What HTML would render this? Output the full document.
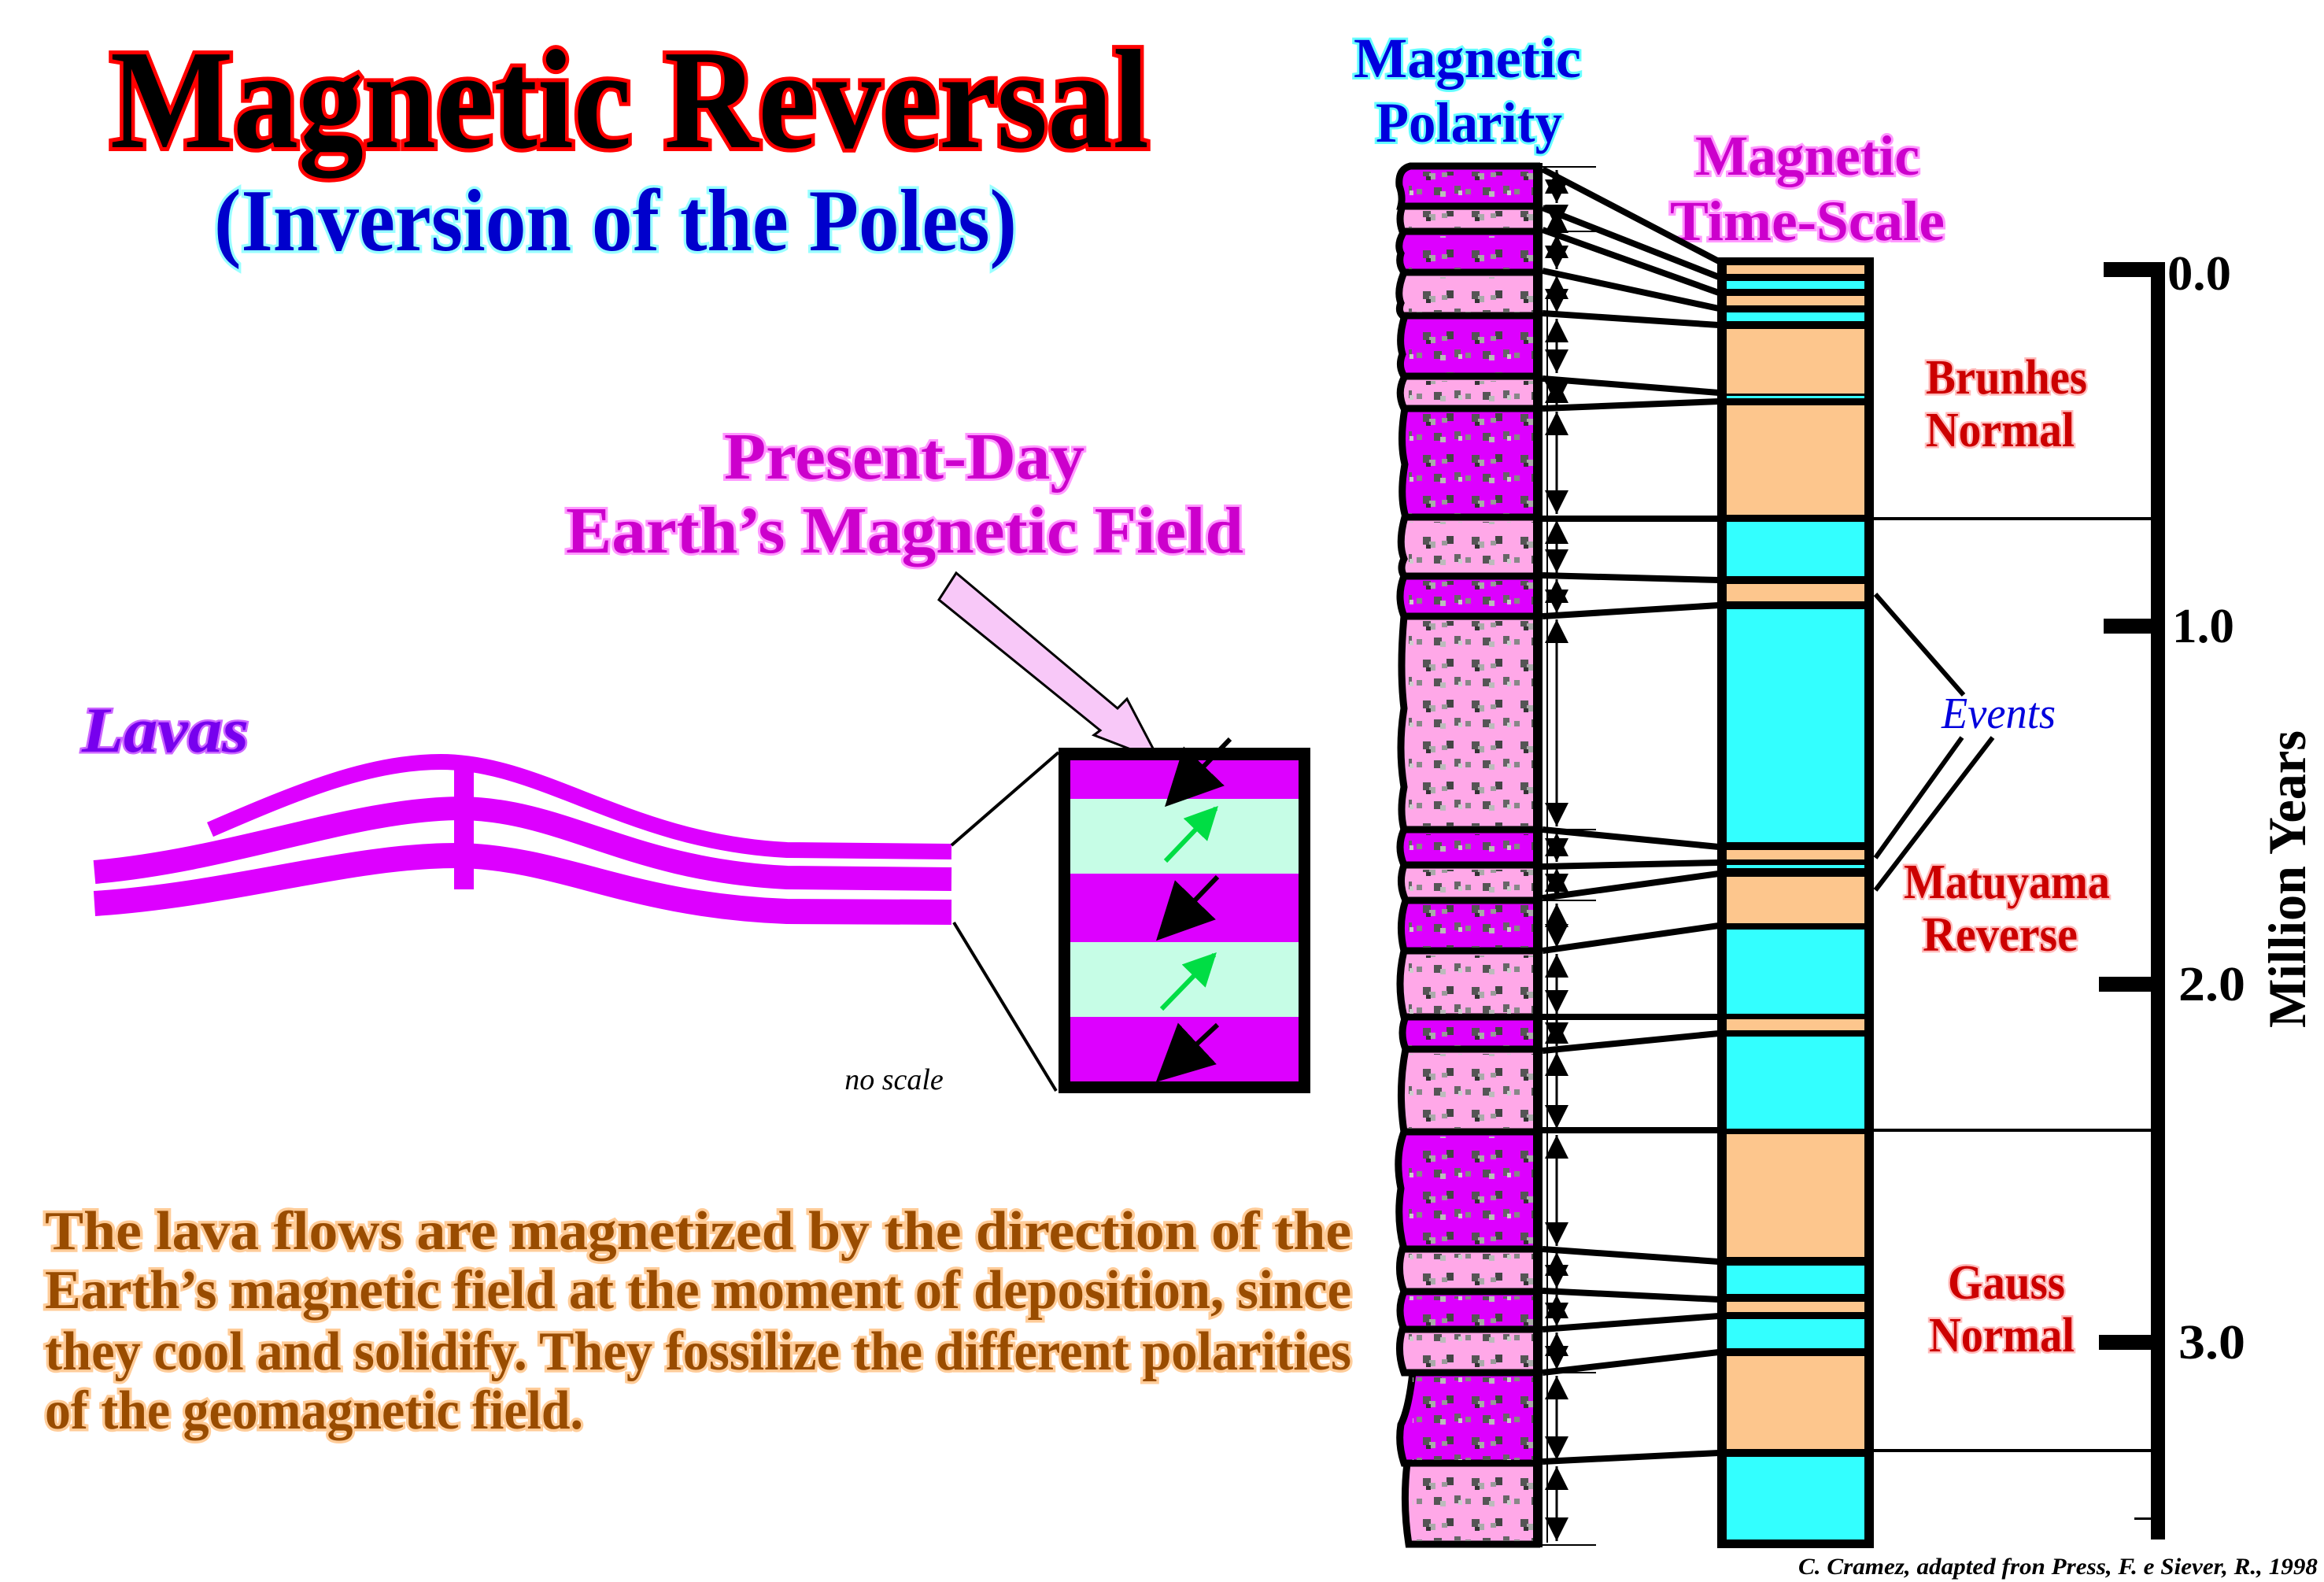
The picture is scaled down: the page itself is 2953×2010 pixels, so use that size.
<!DOCTYPE html>
<html><head><meta charset="utf-8"><style>
html,body{margin:0;padding:0;background:#fff;}
svg{display:block;}
text{font-family:"Liberation Serif",serif;font-weight:bold;}
</style></head><body>
<svg width="2953" height="2010" viewBox="0 0 2953 2010" xmlns="http://www.w3.org/2000/svg">
<defs>
<pattern id="tx" width="62" height="52" patternUnits="userSpaceOnUse">
<rect x="10" y="6" width="10" height="10" fill="#555"/><rect x="18" y="12" width="8" height="8" fill="#aaa"/><rect x="14" y="16" width="6" height="5" fill="#333"/>
<rect x="40" y="5" width="9" height="10" fill="#444"/><rect x="34" y="11" width="7" height="6" fill="#999"/>
<rect x="24" y="30" width="10" height="10" fill="#555"/><rect x="32" y="35" width="7" height="7" fill="#bbb"/>
<rect x="50" y="28" width="8" height="10" fill="#666"/><rect x="55" y="34" width="5" height="6" fill="#ccc"/>
<rect x="2" y="32" width="7" height="7" fill="#888"/>
</pattern>
<marker id="ah" viewBox="0 0 10 10" refX="10" refY="5" markerWidth="30" markerHeight="30" markerUnits="userSpaceOnUse" orient="auto-start-reverse"><path d="M0,0 L10,5 L0,10z" fill="#000"/></marker>
<marker id="bk" viewBox="0 0 10 10" refX="9" refY="5" markerWidth="12" markerHeight="12" orient="auto"><path d="M0,0 L10,5 L0,10z" fill="#000"/></marker>
<marker id="gr" viewBox="0 0 10 10" refX="9" refY="5" markerWidth="7" markerHeight="7" orient="auto"><path d="M0,0 L10,5 L0,10z" fill="#00dd44"/></marker>
</defs>

<text x="140" y="187" font-size="180" textLength="1320" lengthAdjust="spacingAndGlyphs" fill="#000" stroke="#ff0000" stroke-width="10" paint-order="stroke">Magnetic Reversal</text>
<text x="272" y="318" font-size="112" textLength="1020" lengthAdjust="spacingAndGlyphs" fill="#0000cc" stroke="#99ffff" stroke-width="7" paint-order="stroke">(Inversion of the Poles)</text>

<text x="920" y="608" font-size="84" textLength="458" lengthAdjust="spacingAndGlyphs" fill="#cc00cc" stroke="#ff99ff" stroke-width="6" paint-order="stroke">Present-Day</text>
<text x="719" y="702" font-size="84" textLength="861" lengthAdjust="spacingAndGlyphs" fill="#cc00cc" stroke="#ff99ff" stroke-width="6" paint-order="stroke">Earth’s Magnetic Field</text>

<text x="104" y="955" font-size="82" font-style="italic" textLength="212" lengthAdjust="spacingAndGlyphs" fill="#7700ee" stroke="#cc66ff" stroke-width="5" paint-order="stroke">Lavas</text>

<polygon points="1215,728 1193,762 1398,928 1390,934 1473,966 1432,888 1420,900" fill="#f8c8f8" stroke="#000" stroke-width="3"/>

<g fill="none" stroke="#dd00ff" stroke-linecap="butt">
<path d="M267,1054 C380,1005 470,968 560,968 C690,968 800,1070 1000,1080 L1209,1082" stroke-width="20"/>
<path d="M120,1108 C300,1092 450,1027 588,1027 C720,1030 800,1105 1000,1115 L1209,1117" stroke-width="30"/>
<path d="M120,1148 C300,1136 450,1085 588,1087 C720,1092 800,1150 1000,1158 L1209,1159" stroke-width="32"/>
</g>
<rect x="577" y="962" width="25" height="168" fill="#dd00ff"/>
<text x="1136" y="1384" font-size="38" font-style="italic" text-anchor="middle" fill="#000" style="font-weight:normal">no scale</text>

<line x1="1209" y1="1074" x2="1345" y2="956" stroke="#000" stroke-width="4"/>
<line x1="1212" y1="1172" x2="1342" y2="1386" stroke="#000" stroke-width="4"/>
<rect x="1345" y="950" width="320" height="439" fill="#000"/>
<rect x="1360" y="966" width="290" height="49" fill="#dd00ff"/>
<rect x="1360" y="1015" width="290" height="95" fill="#c6fde6"/>
<rect x="1360" y="1110" width="290" height="87" fill="#dd00ff"/>
<rect x="1360" y="1197" width="290" height="95" fill="#c6fde6"/>
<rect x="1360" y="1292" width="290" height="82" fill="#dd00ff"/>
<g stroke="#000" stroke-width="6">
<line x1="1563" y1="939" x2="1485" y2="1020" marker-end="url(#bk)"/>
<line x1="1547" y1="1114" x2="1474" y2="1190" marker-end="url(#bk)"/>
<line x1="1547" y1="1302" x2="1474" y2="1370" marker-end="url(#bk)"/>
</g>
<g stroke="#00dd44" stroke-width="6">
<line x1="1481" y1="1094" x2="1545" y2="1027" marker-end="url(#gr)"/>
<line x1="1476" y1="1282" x2="1543" y2="1213" marker-end="url(#gr)"/>
</g>

<g font-size="70" fill="#994c00" stroke="#ffcc99" stroke-width="7" paint-order="stroke">
<text x="57" y="1587" textLength="1660" lengthAdjust="spacingAndGlyphs">The lava flows are magnetized by the direction of the</text>
<text x="57" y="1662" textLength="1660" lengthAdjust="spacingAndGlyphs">Earth’s magnetic field at the moment of deposition, since</text>
<text x="57" y="1740" textLength="1660" lengthAdjust="spacingAndGlyphs">they cool and solidify. They fossilize the different polarities</text>
<text x="57" y="1815" textLength="684" lengthAdjust="spacingAndGlyphs">of the geomagnetic field.</text>
</g>

<g fill="#0000dd" stroke="#66ffff" stroke-width="6" paint-order="stroke" font-size="72">
<text x="1720" y="98" textLength="289" lengthAdjust="spacingAndGlyphs">Magnetic</text>
<text x="1748" y="180" textLength="237" lengthAdjust="spacingAndGlyphs">Polarity</text>
</g>
<g fill="#cc00cc" stroke="#ff99ff" stroke-width="6" paint-order="stroke" font-size="72">
<text x="2154" y="222" textLength="285" lengthAdjust="spacingAndGlyphs">Magnetic</text>
<text x="2122" y="305" textLength="349" lengthAdjust="spacingAndGlyphs">Time-Scale</text>
</g>

<g stroke="#000" stroke-width="9">
<path d="M1957,211 L1792,211 Q1776,215 1778,236 Q1783,250 1780,262 L1957,262" fill="#dd00ff"/>
<path d="M1957,262 L1782,262 Q1776,278 1782,294 L1957,294" fill="#ffa8e8"/>
<path d="M1957,294 L1784,294 Q1774,310 1780,322 Q1776,335 1784,346 L1957,346" fill="#dd00ff"/>
<path d="M1957,346 L1784,346 Q1774,370 1780,385 Q1776,395 1782,401 L1957,401" fill="#ffa8e8"/>
<path d="M1957,401 L1785,401 Q1776,430 1782,450 Q1776,465 1784,478 L1957,478" fill="#dd00ff"/>
<path d="M1957,478 L1785,478 Q1774,498 1784,519 L1957,519" fill="#ffa8e8"/>
<path d="M1957,519 L1785,519 Q1778,560 1785,590 Q1778,630 1786,657 L1957,657" fill="#dd00ff"/>
<path d="M1957,657 L1785,657 Q1776,690 1784,710 Q1778,722 1784,732 L1957,732" fill="#ffa8e8"/>
<path d="M1957,732 L1784,732 Q1774,758 1784,783 L1957,783" fill="#dd00ff"/>
<path d="M1957,783 L1784,783 Q1778,850 1784,900 Q1776,950 1784,1000 Q1778,1030 1784,1054 L1957,1054" fill="#ffa8e8"/>
<path d="M1957,1054 L1784,1054 Q1774,1076 1784,1099 L1957,1099" fill="#dd00ff"/>
<path d="M1957,1099 L1784,1099 Q1776,1122 1786,1144 L1957,1144" fill="#ffa8e8"/>
<path d="M1957,1144 L1786,1144 Q1776,1175 1784,1208 L1957,1208" fill="#dd00ff"/>
<path d="M1957,1208 L1784,1208 Q1774,1250 1784,1292 L1957,1292" fill="#ffa8e8"/>
<path d="M1957,1292 L1786,1292 Q1778,1312 1786,1333 L1957,1333" fill="#dd00ff"/>
<path d="M1957,1333 L1786,1333 Q1776,1385 1784,1438 L1957,1438" fill="#ffa8e8"/>
<path d="M1957,1438 L1784,1438 Q1772,1470 1780,1510 Q1774,1550 1784,1587 L1957,1587" fill="#dd00ff"/>
<path d="M1957,1587 L1782,1587 Q1774,1614 1784,1641 L1957,1641" fill="#ffa8e8"/>
<path d="M1957,1641 L1784,1641 Q1774,1665 1784,1689 L1957,1689" fill="#dd00ff"/>
<path d="M1957,1689 L1782,1689 Q1774,1716 1784,1744 L1957,1744" fill="#ffa8e8"/>
<path d="M1957,1744 L1795,1744 Q1790,1790 1780,1810 Q1776,1835 1784,1859 L1957,1859" fill="#dd00ff"/>
<path d="M1957,1859 L1788,1859 Q1782,1910 1790,1962 L1957,1962" fill="#ffa8e8"/>
</g>
<g fill="url(#tx)">
<rect x="1790" y="218" width="162" height="40"/><rect x="1790" y="268" width="162" height="22"/>
<rect x="1790" y="300" width="162" height="42"/><rect x="1790" y="352" width="162" height="45"/>
<rect x="1790" y="407" width="162" height="67"/><rect x="1790" y="484" width="162" height="31"/>
<rect x="1790" y="525" width="162" height="128"/><rect x="1790" y="663" width="162" height="65"/>
<rect x="1790" y="738" width="162" height="41"/><rect x="1790" y="789" width="162" height="261"/>
<rect x="1790" y="1060" width="162" height="35"/><rect x="1790" y="1105" width="162" height="35"/>
<rect x="1790" y="1150" width="162" height="54"/><rect x="1790" y="1214" width="162" height="74"/>
<rect x="1790" y="1298" width="162" height="31"/><rect x="1790" y="1339" width="162" height="95"/>
<rect x="1790" y="1444" width="162" height="139"/><rect x="1790" y="1593" width="162" height="44"/>
<rect x="1790" y="1647" width="162" height="38"/><rect x="1790" y="1695" width="162" height="45"/>
<rect x="1795" y="1750" width="157" height="105"/><rect x="1795" y="1865" width="157" height="93"/>
</g>
<line x1="1954" y1="207" x2="1954" y2="1966" stroke="#000" stroke-width="12"/>

<g stroke="#000" stroke-width="2">
<line x1="1960" y1="212" x2="2028" y2="212"/><line x1="1960" y1="294" x2="2028" y2="294"/>
<line x1="1960" y1="1054" x2="2028" y2="1054"/><line x1="1960" y1="1144" x2="2028" y2="1144"/>
<line x1="1960" y1="1744" x2="2028" y2="1744"/><line x1="1960" y1="1963" x2="2028" y2="1963"/>
<line x1="1966" y1="380" x2="1966" y2="1960"/>
</g>
<g stroke="#000" stroke-width="3">
<line x1="1978" y1="216" x2="1978" y2="258" marker-start="url(#ah)" marker-end="url(#ah)"/>
<line x1="1978" y1="266" x2="1978" y2="290" marker-start="url(#ah)" marker-end="url(#ah)"/>
<line x1="1978" y1="298" x2="1978" y2="342" marker-start="url(#ah)" marker-end="url(#ah)"/>
<line x1="1978" y1="350" x2="1978" y2="397" marker-start="url(#ah)" marker-end="url(#ah)"/>
<line x1="1978" y1="405" x2="1978" y2="474" marker-start="url(#ah)" marker-end="url(#ah)"/>
<line x1="1978" y1="482" x2="1978" y2="515" marker-start="url(#ah)" marker-end="url(#ah)"/>
<line x1="1978" y1="523" x2="1978" y2="653" marker-start="url(#ah)" marker-end="url(#ah)"/>
<line x1="1978" y1="661" x2="1978" y2="728" marker-start="url(#ah)" marker-end="url(#ah)"/>
<line x1="1978" y1="736" x2="1978" y2="779" marker-start="url(#ah)" marker-end="url(#ah)"/>
<line x1="1978" y1="787" x2="1978" y2="1050" marker-start="url(#ah)" marker-end="url(#ah)"/>
<line x1="1978" y1="1058" x2="1978" y2="1095" marker-start="url(#ah)" marker-end="url(#ah)"/>
<line x1="1978" y1="1103" x2="1978" y2="1140" marker-start="url(#ah)" marker-end="url(#ah)"/>
<line x1="1978" y1="1148" x2="1978" y2="1204" marker-start="url(#ah)" marker-end="url(#ah)"/>
<line x1="1978" y1="1212" x2="1978" y2="1288" marker-start="url(#ah)" marker-end="url(#ah)"/>
<line x1="1978" y1="1296" x2="1978" y2="1329" marker-start="url(#ah)" marker-end="url(#ah)"/>
<line x1="1978" y1="1337" x2="1978" y2="1434" marker-start="url(#ah)" marker-end="url(#ah)"/>
<line x1="1978" y1="1442" x2="1978" y2="1583" marker-start="url(#ah)" marker-end="url(#ah)"/>
<line x1="1978" y1="1591" x2="1978" y2="1637" marker-start="url(#ah)" marker-end="url(#ah)"/>
<line x1="1978" y1="1645" x2="1978" y2="1685" marker-start="url(#ah)" marker-end="url(#ah)"/>
<line x1="1978" y1="1693" x2="1978" y2="1740" marker-start="url(#ah)" marker-end="url(#ah)"/>
<line x1="1978" y1="1748" x2="1978" y2="1855" marker-start="url(#ah)" marker-end="url(#ah)"/>
<line x1="1978" y1="1863" x2="1978" y2="1958" marker-start="url(#ah)" marker-end="url(#ah)"/>
</g>

<rect x="2182" y="327" width="199" height="1640" fill="#000"/>
<g>
<rect x="2194" y="337" width="175" height="11" fill="#fdc68d"/>
<rect x="2194" y="357" width="175" height="10" fill="#33ffff"/>
<rect x="2194" y="376" width="175" height="12" fill="#fdc68d"/>
<rect x="2194" y="397" width="175" height="11" fill="#33ffff"/>
<rect x="2194" y="418" width="175" height="82" fill="#fdc68d"/>
<rect x="2194" y="503" width="175" height="3" fill="#33ffff"/>
<rect x="2194" y="515" width="175" height="139" fill="#fdc68d"/>
<rect x="2194" y="663" width="175" height="69" fill="#33ffff"/>
<rect x="2194" y="742" width="175" height="22" fill="#fdc68d"/>
<rect x="2194" y="774" width="175" height="296" fill="#33ffff"/>
<rect x="2194" y="1080" width="175" height="12" fill="#fdc68d"/>
<rect x="2194" y="1099" width="175" height="4" fill="#33ffff"/>
<rect x="2194" y="1114" width="175" height="59" fill="#fdc68d"/>
<rect x="2194" y="1181" width="175" height="107" fill="#33ffff"/>
<rect x="2194" y="1295" width="175" height="14" fill="#fdc68d"/>
<rect x="2194" y="1317" width="175" height="117" fill="#33ffff"/>
<rect x="2194" y="1441" width="175" height="156" fill="#fdc68d"/>
<rect x="2194" y="1608" width="175" height="36" fill="#33ffff"/>
<rect x="2194" y="1654" width="175" height="13" fill="#fdc68d"/>
<rect x="2194" y="1676" width="175" height="37" fill="#33ffff"/>
<rect x="2194" y="1723" width="175" height="118" fill="#fdc68d"/>
<rect x="2194" y="1851" width="175" height="105" fill="#33ffff"/>
</g>

<g stroke="#000" stroke-width="8">
<line x1="1960" y1="215" x2="2184" y2="332"/>
<line x1="1960" y1="264" x2="2184" y2="352"/>
<line x1="1960" y1="292" x2="2184" y2="372"/>
<line x1="1960" y1="344" x2="2184" y2="392"/>
<line x1="1960" y1="398" x2="2184" y2="413"/>
<line x1="1960" y1="481" x2="2184" y2="499"/>
<line x1="1960" y1="519" x2="2184" y2="510"/>
<line x1="1960" y1="731" x2="2184" y2="737"/>
<line x1="1960" y1="783" x2="2184" y2="769"/>
<line x1="1960" y1="1054" x2="2184" y2="1076"/>
<line x1="1960" y1="1101" x2="2184" y2="1096"/>
<line x1="1960" y1="1141" x2="2184" y2="1110"/>
<line x1="1960" y1="1208" x2="2184" y2="1176"/>
<line x1="1960" y1="1292" x2="2184" y2="1292"/>
<line x1="1960" y1="1335" x2="2184" y2="1313"/>
<line x1="1960" y1="1587" x2="2184" y2="1603"/>
<line x1="1960" y1="1640" x2="2184" y2="1651"/>
<line x1="1960" y1="1689" x2="2184" y2="1672"/>
<line x1="1960" y1="1744" x2="2184" y2="1718"/>
<line x1="1960" y1="1857" x2="2184" y2="1846"/>
<line x1="1960" y1="659" x2="2184" y2="659"/>
<line x1="1960" y1="1436" x2="2184" y2="1436"/>
</g>
<g stroke="#000" stroke-width="4">
<line x1="2381" y1="659" x2="2740" y2="659"/>
<line x1="2381" y1="1436" x2="2740" y2="1436"/>
<line x1="2381" y1="1843" x2="2740" y2="1843"/>
<line x1="2383" y1="755" x2="2495" y2="883" stroke-width="6"/>
<line x1="2493" y1="937" x2="2383" y2="1090" stroke-width="6"/>
<line x1="2532" y1="937" x2="2383" y2="1131" stroke-width="6"/>
</g>

<rect x="2733" y="333" width="18" height="1623" fill="#000"/>
<rect x="2673" y="333" width="62" height="19" fill="#000"/>
<rect x="2673" y="786" width="62" height="19" fill="#000"/>
<rect x="2667" y="1241" width="68" height="19" fill="#000"/>
<rect x="2667" y="1696" width="68" height="19" fill="#000"/>
<rect x="2712" y="1928" width="21" height="3" fill="#000"/>
<g font-size="62" fill="#000">
<text x="2754" y="368" textLength="81" lengthAdjust="spacingAndGlyphs">0.0</text>
<text x="2760" y="816" textLength="79" lengthAdjust="spacingAndGlyphs">1.0</text>
<text x="2768" y="1271" textLength="85" lengthAdjust="spacingAndGlyphs">2.0</text>
<text x="2768" y="1726" textLength="85" lengthAdjust="spacingAndGlyphs">3.0</text>
</g>
<text transform="translate(2929,1306) rotate(-90)" font-size="68" fill="#000" textLength="378" lengthAdjust="spacingAndGlyphs">Million Years</text>

<g font-size="62" fill="#cc0000" stroke="#ffbbbb" stroke-width="5" paint-order="stroke">
<text x="2447" y="500" textLength="205" lengthAdjust="spacingAndGlyphs">Brunhes</text>
<text x="2447" y="567" textLength="189" lengthAdjust="spacingAndGlyphs">Normal</text>
<text x="2419" y="1141" textLength="262" lengthAdjust="spacingAndGlyphs">Matuyama</text>
<text x="2443" y="1208" textLength="197" lengthAdjust="spacingAndGlyphs">Reverse</text>
<text x="2475" y="1650" textLength="149" lengthAdjust="spacingAndGlyphs">Gauss</text>
<text x="2451" y="1717" textLength="185" lengthAdjust="spacingAndGlyphs">Normal</text>
</g>
<text x="2467" y="925" font-size="56" font-style="italic" fill="#0000dd" style="font-weight:normal" textLength="145" lengthAdjust="spacingAndGlyphs">Events</text>

<text x="2285" y="2000" font-size="30" font-style="italic" fill="#000" textLength="660" lengthAdjust="spacingAndGlyphs">C. Cramez, adapted fron  Press, F. e Siever, R., 1998</text>
</svg>
</body></html>
